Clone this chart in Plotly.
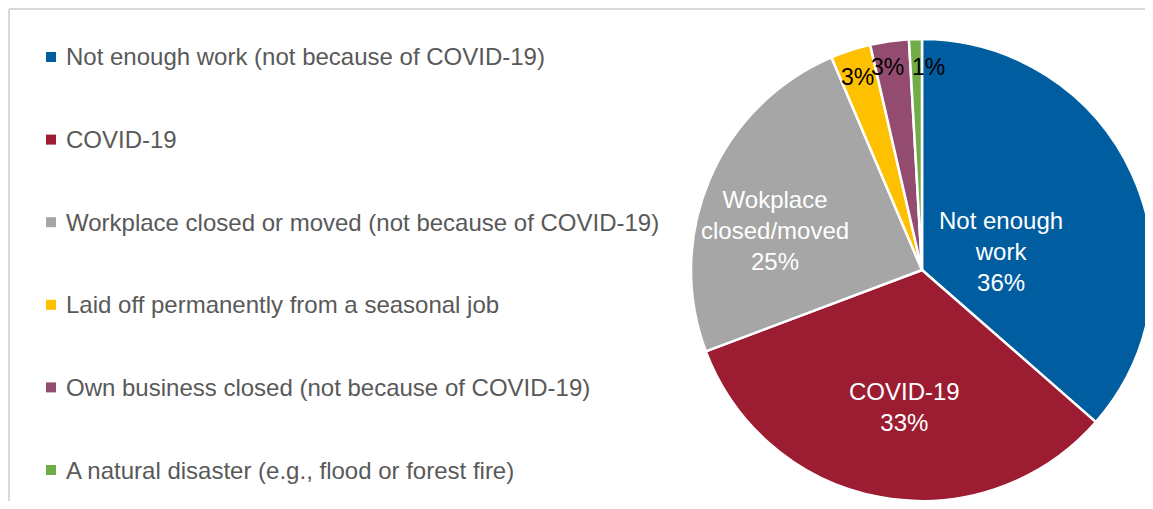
import math
import plotly.graph_objects as go

# page size and the browser's default body margin that offsets the figure
PAGE_W, PAGE_H = 1153, 509
OFF = 8
W, H = PAGE_W - OFF, PAGE_H - 2 * OFF

# data
legend_labels = [
    "Not enough work (not because of COVID-19)",
    "COVID-19",
    "Workplace closed or moved (not because of COVID-19)",
    "Laid off permanently from a seasonal job",
    "Own business closed (not because of COVID-19)",
    "A natural disaster (e.g., flood or forest fire)",
]
slice_names = ["Not enough<br>work", "COVID-19", "Wokplace<br>closed/moved", "", "", ""]
values = [36.4, 32.8, 24.3, 2.8, 2.7, 0.9]
pct_labels = ["36%", "33%", "25%", "3%", "3%", "1%"]
colors = ["#005DA0", "#9C1C31", "#A6A6A6", "#FFC000", "#934C70", "#70AD47"]

FONT = "Liberation Sans, Arial, sans-serif"
FS = 24


def px_x(x):  # page pixel -> paper
    return (x - OFF) / W


def px_y(y):
    return 1 - (y - OFF) / H


# pie geometry in page pixels
cx, cy, r = 922, 270, 231

fig = go.Figure(go.Pie(
    labels=legend_labels,
    values=values,
    textinfo="none",
    marker=dict(colors=colors, line=dict(color="white", width=2.5)),
    sort=False,
    direction="clockwise",
    rotation=0,
    showlegend=False,
    hoverinfo="label+percent",
    domain=dict(x=[px_x(cx - r), 1.0], y=[0.0, px_y(cy - r)]),
))

annotations = []
shapes = []

# slice labels: (radial fraction, angle tweak in degrees) per slice
label_pos = [(0.35, 11), (0.6, -3), (0.66, -8), (0.88, -0.5), (0.89, -1.5), (0.88, 3.5)]

total = sum(values)
cum = 0
for i, (v, pct, name) in enumerate(zip(values, pct_labels, slice_names)):
    mid = (cum + v / 2) / total * 360
    cum += v
    frac, tweak = label_pos[i]
    ang = math.radians(mid + tweak)
    lx = cx + frac * r * math.sin(ang)
    ly = cy - frac * r * math.cos(ang)
    annotations.append(dict(
        x=px_x(lx), y=px_y(ly), xref="paper", yref="paper",
        xanchor="center", yanchor="middle", align="center",
        text=f"{name}<br>{pct}" if name else pct, showarrow=False,
        font=dict(family=FONT, size=FS if name else 23,
                  color="white" if name else "black"),
    ))

# manual legend
for i, (lab, col) in enumerate(zip(legend_labels, colors)):
    yc = 57 + i * 82.6
    shapes.append(dict(
        type="rect", xref="paper", yref="paper",
        x0=px_x(46), x1=px_x(56), y0=px_y(yc - 5), y1=px_y(yc + 5),
        fillcolor=col, line=dict(width=0),
    ))
    annotations.append(dict(
        x=px_x(64), y=px_y(yc), xref="paper", yref="paper",
        xanchor="left", yanchor="middle", text=lab, showarrow=False,
        font=dict(family=FONT, size=FS, color="#595959"),
    ))

# chart border (top and left edges)
shapes.append(dict(type="line", xref="paper", yref="paper",
                   x0=1 / W, x1=1, y0=1 - 1 / H, y1=1 - 1 / H,
                   line=dict(color="#D9D9D9", width=2)))
shapes.append(dict(type="line", xref="paper", yref="paper",
                   x0=1 / W, x1=1 / W, y0=1 - 1 / H, y1=0,
                   line=dict(color="#D9D9D9", width=2)))

fig.update_layout(
    width=W, height=H,
    margin=dict(l=0, r=0, t=0, b=0),
    paper_bgcolor="white",
    plot_bgcolor="white",
    annotations=annotations,
    shapes=shapes,
)

fig.write_html("out.html")
